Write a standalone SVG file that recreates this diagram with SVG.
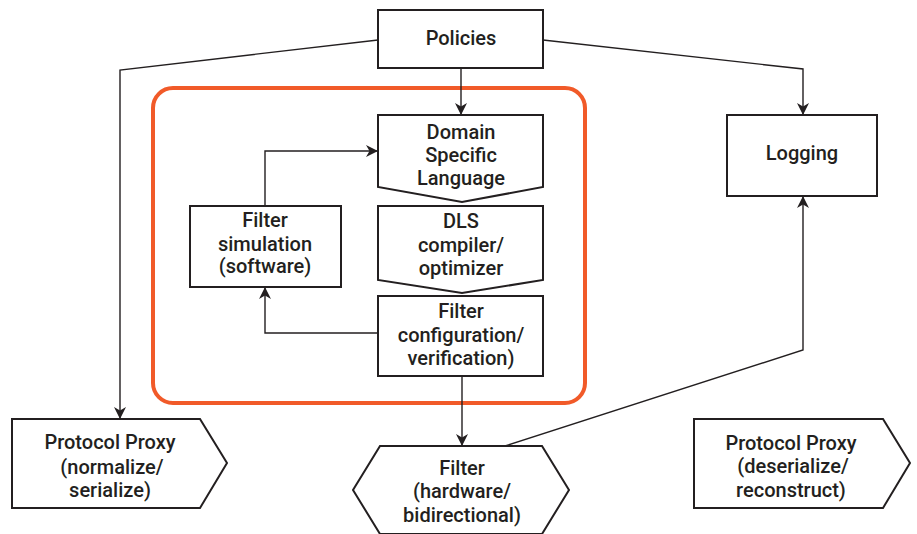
<svg xmlns="http://www.w3.org/2000/svg" width="917" height="534" viewBox="0 0 917 534">
<style>
.box{fill:#fff;stroke:#231f20;stroke-width:2}
.t{font-family:"Roboto","Liberation Sans",sans-serif;font-weight:500;font-size:20px;fill:#231f20;text-anchor:middle}
.c{fill:none;stroke:#231f20;stroke-width:1.4}
</style>
<defs>
<marker id="ah" viewBox="0 0 12 12" refX="12" refY="6" markerWidth="12" markerHeight="12" markerUnits="userSpaceOnUse" orient="auto">
<path d="M0,0 L12,6 L0,12 L3.5,6 z" fill="#231f20"/>
</marker>
</defs>
<rect x="153" y="88" width="432" height="315" rx="20" fill="none" stroke="#f15a29" stroke-width="4"/>
<g id="connectors">
<polyline class="c" points="543,40 803,69 803,115" marker-end="url(#ah)"/>
<polyline class="c" points="378,40 120,70 120,419" marker-end="url(#ah)"/>
<polyline class="c" points="461,68 461,115" marker-end="url(#ah)"/>
<polyline class="c" points="265,206 265,151 378,151" marker-end="url(#ah)"/>
<polyline class="c" points="378,333 265,333 265,287" marker-end="url(#ah)"/>
<polyline class="c" points="462,376 462,446" marker-end="url(#ah)"/>
<polyline class="c" points="505,446 803,350 803,196" marker-end="url(#ah)"/>
</g>
<g id="policies">
<rect class="box" x="378" y="10" width="165" height="58"/>
<text class="t" x="461" y="45">Policies</text>
</g>
<g id="logging">
<rect class="box" x="727" y="115" width="150" height="81"/>
<text class="t" x="802" y="160">Logging</text>
</g>
<g id="dsl">
<path class="box" d="M378,115 H543 V187 L462,202 L378,187 Z"/>
<text class="t" x="461" y="139">Domain</text>
<text class="t" x="461" y="162">Specific</text>
<text class="t" x="461" y="185">Language</text>
</g>
<g id="compiler">
<path class="box" d="M378,206 H543 V280 L462,293 L378,280 Z"/>
<text class="t" x="461" y="228">DLS</text>
<text class="t" x="461" y="252">compiler/</text>
<text class="t" x="461" y="275">optimizer</text>
</g>
<g id="config">
<rect class="box" x="378" y="296" width="165" height="80"/>
<text class="t" x="461" y="318">Filter</text>
<text class="t" x="461" y="342">configuration/</text>
<text class="t" x="461" y="365">verification)</text>
</g>
<g id="simulation">
<rect class="box" x="190" y="206" width="151" height="81"/>
<text class="t" x="265" y="227">Filter</text>
<text class="t" x="265" y="251">simulation</text>
<text class="t" x="265" y="273">(software)</text>
</g>
<g id="proxy-left">
<path class="box" d="M12,419 H200 L227,463 L200,508 H12 Z"/>
<text class="t" x="110" y="449">Protocol Proxy</text>
<text class="t" x="112" y="474">(normalize/</text>
<text class="t" x="110" y="497">serialize)</text>
</g>
<g id="filter">
<path class="box" d="M380,446 H542 L569,490 L542,534 H380 L353,490 Z"/>
<text class="t" x="462" y="475">Filter</text>
<text class="t" x="462" y="498">(hardware/</text>
<text class="t" x="462" y="522">bidirectional)</text>
</g>
<g id="proxy-right">
<path class="box" d="M694,419 H883 L910,463 L883,508 H694 Z"/>
<text class="t" x="791" y="450">Protocol Proxy</text>
<text class="t" x="793" y="473">(deserialize/</text>
<text class="t" x="791" y="497">reconstruct)</text>
</g>
</svg>
